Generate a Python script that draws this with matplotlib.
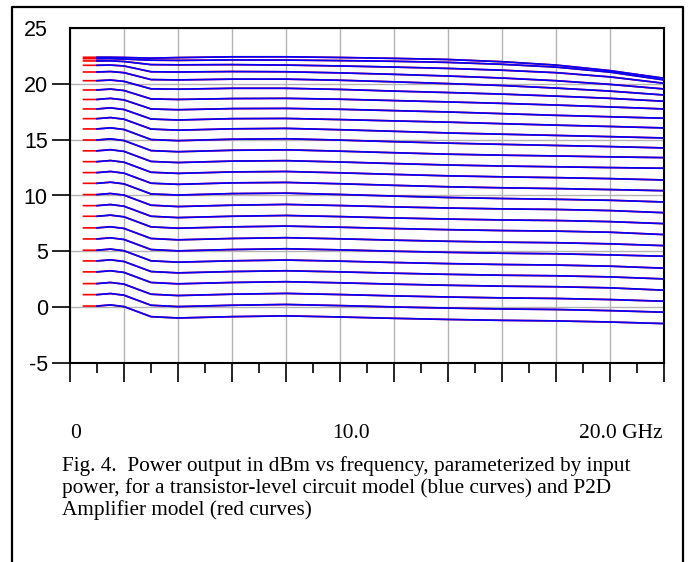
import numpy as np
import matplotlib
matplotlib.use("Agg")
import matplotlib.pyplot as plt
import matplotlib.ticker as ticker
from matplotlib.lines import Line2D

# ── Data ──────────────────────────────────────────────────────────────────────
freq_ghz = [0.5, 1, 1.5, 2, 3, 4, 6, 8, 10, 12, 14, 16, 18, 20, 22]

# output power (dBm) per input-power step, bottom curve first
pout_dbm = [
    [0.10, 0.10, 0.20, 0.05, -0.85, -0.97, -0.85, -0.78, -0.88, -1.00, -1.10, -1.18, -1.23, -1.33, -1.47],
    [1.12, 1.12, 1.22, 1.07, 0.17, 0.05, 0.17, 0.24, 0.14, 0.02, -0.08, -0.16, -0.21, -0.31, -0.45],
    [2.11, 2.11, 2.21, 2.06, 1.16, 1.04, 1.16, 1.23, 1.13, 1.01, 0.91, 0.83, 0.78, 0.68, 0.53],
    [3.16, 3.16, 3.26, 3.11, 2.21, 2.09, 2.21, 2.28, 2.18, 2.06, 1.96, 1.88, 1.83, 1.73, 1.52],
    [4.14, 4.14, 4.24, 4.09, 3.19, 3.07, 3.19, 3.26, 3.16, 3.04, 2.94, 2.86, 2.81, 2.71, 2.53],
    [5.10, 5.10, 5.20, 5.05, 4.15, 4.03, 4.15, 4.22, 4.12, 4.00, 3.90, 3.82, 3.77, 3.67, 3.49],
    [6.11, 6.11, 6.21, 6.06, 5.16, 5.04, 5.16, 5.23, 5.13, 5.01, 4.91, 4.83, 4.78, 4.68, 4.56],
    [7.10, 7.10, 7.20, 7.05, 6.15, 6.03, 6.15, 6.22, 6.12, 6.00, 5.90, 5.82, 5.77, 5.67, 5.51],
    [8.14, 8.14, 8.24, 8.09, 7.19, 7.07, 7.19, 7.26, 7.16, 7.04, 6.94, 6.86, 6.81, 6.71, 6.50],
    [9.09, 9.09, 9.19, 9.04, 8.14, 8.02, 8.14, 8.21, 8.11, 7.99, 7.89, 7.81, 7.76, 7.66, 7.48],
    [10.08, 10.08, 10.18, 10.03, 9.13, 9.01, 9.13, 9.20, 9.10, 8.98, 8.88, 8.80, 8.75, 8.65, 8.46],
    [11.09, 11.09, 11.19, 11.04, 10.14, 10.04, 10.17, 10.21, 10.09, 9.95, 9.82, 9.73, 9.66, 9.57, 9.42],
    [12.05, 12.05, 12.15, 12.00, 11.10, 11.00, 11.13, 11.17, 11.05, 10.91, 10.78, 10.69, 10.62, 10.53, 10.43],
    [13.03, 13.03, 13.13, 12.98, 12.08, 11.98, 12.11, 12.15, 12.03, 11.89, 11.76, 11.67, 11.60, 11.51, 11.39],
    [14.00, 14.00, 14.10, 13.95, 13.05, 12.95, 13.08, 13.12, 13.00, 12.86, 12.73, 12.64, 12.57, 12.50, 12.44],
    [14.97, 14.97, 15.07, 14.92, 14.02, 13.92, 14.05, 14.09, 13.97, 13.83, 13.70, 13.61, 13.54, 13.46, 13.39],
    [15.96, 15.96, 16.06, 15.91, 15.01, 14.91, 15.04, 15.08, 14.96, 14.82, 14.69, 14.58, 14.48, 14.38, 14.26],
    [16.88, 16.88, 16.98, 16.83, 15.95, 15.85, 15.97, 16.01, 15.89, 15.75, 15.60, 15.49, 15.38, 15.27, 15.15],
    [17.75, 17.75, 17.85, 17.70, 16.85, 16.76, 16.88, 16.90, 16.80, 16.68, 16.57, 16.43, 16.30, 16.18, 16.05],
    [18.60, 18.60, 18.70, 18.56, 17.75, 17.68, 17.78, 17.80, 17.72, 17.60, 17.48, 17.33, 17.18, 17.05, 16.92],
    [19.45, 19.45, 19.53, 19.40, 18.65, 18.60, 18.68, 18.70, 18.62, 18.50, 18.38, 18.25, 18.10, 17.93, 17.75],
    [20.28, 20.28, 20.34, 20.22, 19.55, 19.52, 19.60, 19.60, 19.50, 19.35, 19.22, 19.08, 18.90, 18.70, 18.44],
    [21.06, 21.06, 21.10, 21.00, 20.38, 20.35, 20.42, 20.42, 20.32, 20.18, 20.02, 19.85, 19.62, 19.35, 19.00],
    [21.66, 21.66, 21.68, 21.60, 21.08, 21.06, 21.10, 21.08, 20.98, 20.85, 20.70, 20.52, 20.28, 19.95, 19.54],
    [22.05, 22.05, 22.06, 22.00, 21.72, 21.70, 21.72, 21.68, 21.60, 21.50, 21.38, 21.22, 21.00, 20.62, 20.05],
    [22.25, 22.25, 22.26, 22.22, 22.12, 22.10, 22.14, 22.13, 22.08, 22.02, 21.92, 21.75, 21.50, 21.05, 20.35],
    [22.38, 22.38, 22.38, 22.36, 22.30, 22.35, 22.42, 22.42, 22.36, 22.28, 22.18, 21.98, 21.68, 21.18, 20.50],
]

y_ticks = [-5, 0, 5, 10, 15, 20, 25]
x_labels = ["0", "10.0", "20.0 GHz"]
x_label_pos = [0.0, 10.4, 18.85]
caption = ("Fig. 4.  Power output in dBm vs frequency, parameterized by input\n"
           "power, for a transistor-level circuit model (blue curves) and P2D\n"
           "Amplifier model (red curves)")

# ── Figure ────────────────────────────────────────────────────────────────────
fig = plt.figure(figsize=(6.88, 5.62), dpi=100, facecolor="white")
ax = fig.add_axes([70 / 688, 1 - 363 / 562, 594 / 688, 335 / 562])

# red = P2D model (drawn first), blue = transistor-level model on top
for row in pout_dbm:
    ax.plot(freq_ghz, row, color="#ff0000", linewidth=1.2, zorder=2)
    ax.plot(freq_ghz[1:], row[1:], color="#0000ff", linewidth=1.25, zorder=3)

ax.set_xlim(0, 22)
ax.set_ylim(-5, 25)
ax.xaxis.set_major_locator(ticker.MultipleLocator(2))
ax.xaxis.set_minor_locator(ticker.MultipleLocator(1))
ax.set_yticks(y_ticks)
ax.set_yticklabels([str(v) for v in y_ticks], fontsize=15.5, family="Liberation Sans")
ax.set_xticklabels([])
ax.tick_params(axis="x", which="major", length=14, width=1.2, direction="out")
ax.tick_params(axis="x", which="minor", length=7, width=1.2, direction="out")
ax.tick_params(axis="y", length=13, width=1.2, pad=3, direction="out")
ax.yaxis.get_major_ticks()[-1].tick1line.set_visible(False)

ax.grid(True, which="major", color="#b4b4b4", linewidth=1.0)
ax.set_axisbelow(True)
for s in ax.spines.values():
    s.set_linewidth(1.5)
    s.set_color("black")

for lab, xp in zip(x_labels, x_label_pos):
    ha = "left" if lab != "10.0" else "center"
    ax.text(xp, -0.21, lab, transform=ax.get_xaxis_transform(), ha=ha, va="center",
            fontsize=15.5, family="Liberation Serif")

fig.text(62 / 688, 1 - 488 / 562, caption, ha="left", va="center",
         fontsize=15.3, family="Liberation Serif", linespacing=1.12)

# outer frame (open at the bottom)
frame_x = [12 / 688, 12 / 688, 683 / 688, 683 / 688]
frame_y = [0, 1 - 7 / 562, 1 - 7 / 562, 0]
fig.add_artist(Line2D(frame_x, frame_y, color="black", linewidth=1.6,
                      transform=fig.transFigure))

fig.savefig("out.png", dpi=100, facecolor="white")
